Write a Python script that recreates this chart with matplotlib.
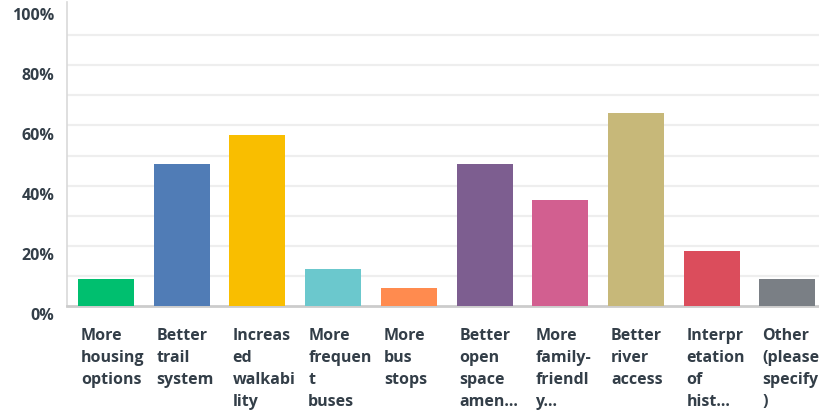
import matplotlib
matplotlib.use("Agg")
import matplotlib.pyplot as plt
import matplotlib.transforms as mtransforms

# answer choices, as wrapped in the source chart
labels = [
    "More\nhousing\noptions",
    "Better\ntrail\nsystem",
    "Increas\ned\nwalkabi\nlity",
    "More\nfrequen\nt\nbuses",
    "More\nbus\nstops",
    "Better\nopen\nspace\namen...",
    "More\nfamily-\nfriendl\ny...",
    "Better\nriver\naccess",
    "Interpr\netation\nof\nhist...",
    "Other\n(please\nspecify\n)",
]
values = [9.0, 47.2, 56.8, 12.3, 6.0, 47.2, 35.2, 64.1, 18.3, 9.0]
bar_colors = ["#00BF6F", "#507CB6", "#F9BE00", "#6BC8CD", "#FF8B4F",
              "#7D5E90", "#D25F90", "#C7B879", "#DB4D5C", "#7A7F85"]
yticks = [0, 20, 40, 60, 80, 100]

text_color = "#333E48"
plt.rcParams["font.family"] = ["Open Sans", "DejaVu Sans"]

W, H = 820, 413
fig = plt.figure(figsize=(W / 100, H / 100), dpi=100)
ax = fig.add_axes([67 / W, (H - 306) / H, 753 / W, 301 / H])

x = list(range(len(values)))
ax.bar(x, values, width=0.74, color=bar_colors, zorder=3)

ax.set_xlim(-0.515, 9.43)
ax.set_ylim(0, 100)

# light gridlines every 10%
for g in range(10, 100, 10):
    ax.axhline(g, color="#EEEEEE", lw=1.6, zorder=1)

ax.set_yticks(yticks)
ax.set_yticklabels([f"{t}%" for t in yticks], fontsize=11.5, fontweight="bold",
                   color=text_color)
ax.tick_params(axis="y", length=0, pad=9)
# labels sit a bit below their gridlines in the original
shift = mtransforms.ScaledTranslation(0, -0.085, fig.dpi_scale_trans)
for t in ax.get_yticklabels():
    t.set_transform(t.get_transform() + shift)
ax.set_xticks([])

for s in ["top", "right"]:
    ax.spines[s].set_visible(False)
ax.spines["left"].set_color("#D9D9D9")
ax.spines["left"].set_linewidth(1.2)
ax.spines["bottom"].set_color("#CCCCCC")
ax.spines["bottom"].set_linewidth(2)
ax.spines["left"].set_bounds(0, 101)

trans = mtransforms.blended_transform_factory(ax.transData, ax.transAxes)
for i, lab in enumerate(labels):
    ax.text(i - 0.33, -0.072, lab, transform=trans, ha="left", va="top",
            fontsize=11.5, fontweight="bold", color=text_color,
            linespacing=1.5, clip_on=False)

fig.savefig("out.png", dpi=100)
